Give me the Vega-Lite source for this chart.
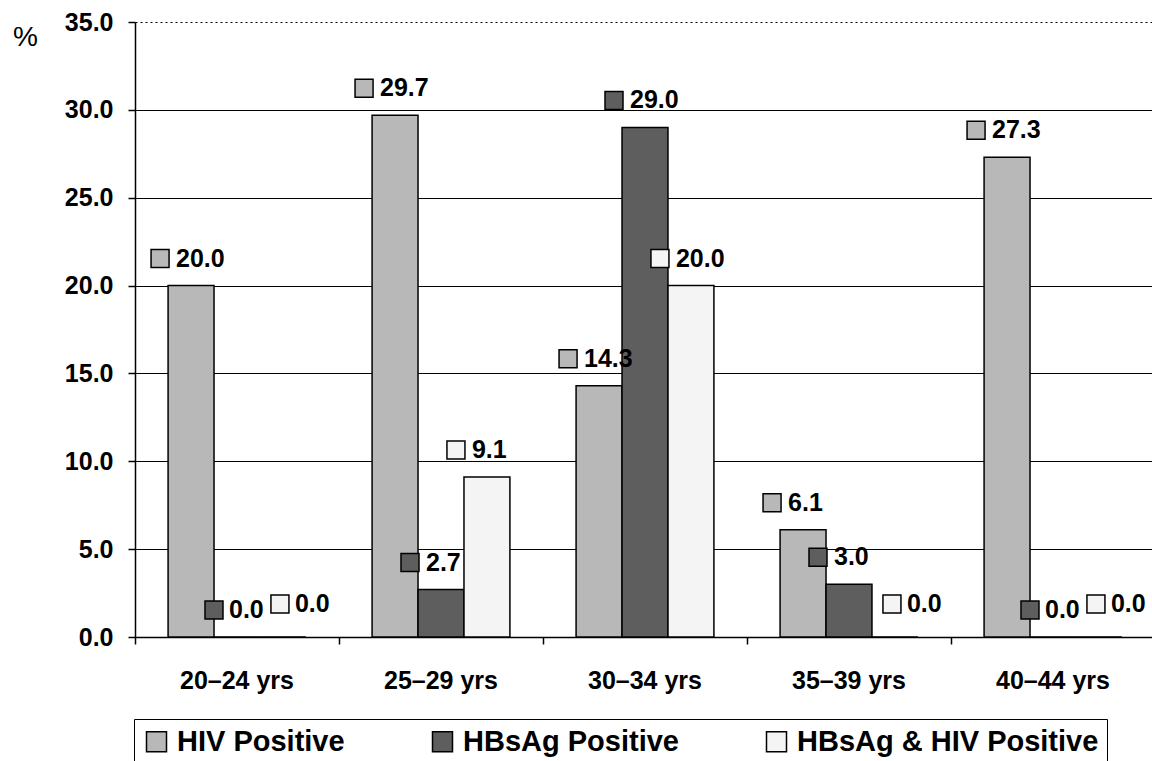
{
  "$schema": "https://vega.github.io/schema/vega-lite/v6.json",
  "width": 1020,
  "height": 615,
  "autosize": {"type": "none"},
  "padding": {"left": 135, "top": 22, "right": 0, "bottom": 124},
  "background": "white",
  "config": {"font": "Liberation Sans", "view": {"stroke": null}},
  "data": {"values": [
    {"age": "20–24 yrs", "series": "HIV Positive", "pct": 20.0},
    {"age": "20–24 yrs", "series": "HBsAg Positive", "pct": 0.0},
    {"age": "20–24 yrs", "series": "HBsAg & HIV Positive", "pct": 0.0},
    {"age": "25–29 yrs", "series": "HIV Positive", "pct": 29.7},
    {"age": "25–29 yrs", "series": "HBsAg Positive", "pct": 2.7},
    {"age": "25–29 yrs", "series": "HBsAg & HIV Positive", "pct": 9.1},
    {"age": "30–34 yrs", "series": "HIV Positive", "pct": 14.3},
    {"age": "30–34 yrs", "series": "HBsAg Positive", "pct": 29.0},
    {"age": "30–34 yrs", "series": "HBsAg & HIV Positive", "pct": 20.0},
    {"age": "35–39 yrs", "series": "HIV Positive", "pct": 6.1},
    {"age": "35–39 yrs", "series": "HBsAg Positive", "pct": 3.0},
    {"age": "35–39 yrs", "series": "HBsAg & HIV Positive", "pct": 0.0},
    {"age": "40–44 yrs", "series": "HIV Positive", "pct": 27.3},
    {"age": "40–44 yrs", "series": "HBsAg Positive", "pct": 0.0},
    {"age": "40–44 yrs", "series": "HBsAg & HIV Positive", "pct": 0.0}
  ]},
  "encoding": {
    "x": {
      "field": "age", "type": "nominal", "sort": null,
      "scale": {"paddingInner": 0, "paddingOuter": 0},
      "axis": {
        "title": null, "labelAngle": 0, "bandPosition": 0,
        "domainColor": "black", "domainWidth": 1.5,
        "tickColor": "black", "tickWidth": 1.5, "tickSize": 7,
        "labelFontSize": 25, "labelFontWeight": "bold", "labelColor": "black",
        "labelPadding": 24, "grid": false
      }
    },
    "xOffset": {
      "field": "series", "type": "nominal",
      "sort": ["HIV Positive", "HBsAg Positive", "HBsAg & HIV Positive"],
      "scale": {"paddingInner": 0, "paddingOuter": 0.72}
    },
    "y": {
      "field": "pct", "type": "quantitative",
      "scale": {"domain": [0, 35], "nice": false},
      "axis": {
        "values": [0, 5, 10, 15, 20, 25, 30, 35], "format": ".1f",
        "title": "%", "titleAngle": 0, "titleX": -110, "titleY": 15,
        "titleAlign": "center", "titleBaseline": "middle",
        "titleFontSize": 28, "titleFontWeight": "normal", "titleColor": "black",
        "domainColor": "black", "domainWidth": 1.5,
        "tickColor": "black", "tickWidth": 1.5, "tickSize": 7,
        "labelFontSize": 25, "labelFontWeight": "bold", "labelColor": "black",
        "labelPadding": 15,
        "grid": true, "gridColor": "black", "gridWidth": 1,
        "gridDash": {"condition": {"test": "datum.value == 35", "value": [2, 3]}, "value": []}
      }
    },
    "fill": {
      "field": "series", "type": "nominal",
      "sort": ["HIV Positive", "HBsAg Positive", "HBsAg & HIV Positive"],
      "scale": {"domain": ["HIV Positive", "HBsAg Positive", "HBsAg & HIV Positive"], "range": ["#b8b8b8", "#5e5e5e", "#f4f4f4"]},
      "legend": {
        "title": null, "orient": "none", "legendX": -1, "legendY": 697,
        "direction": "horizontal", "labelFontSize": 29, "labelFontWeight": "bold",
        "labelColor": "black", "labelLimit": 600, "symbolType": "square", "symbolSize": 400,
        "symbolStrokeColor": "black", "symbolStrokeWidth": 1.5, "strokeColor": "black",
        "fillColor": "white", "padding": 8, "columnPadding": 83, "labelOffset": 6
      }
    }
  },
  "layer": [
    {
      "mark": {"type": "bar", "stroke": "black", "strokeWidth": 1.5}
    },
    {
      "transform": [{"filter": "datum.pct != 0"}],
      "mark": {"type": "point", "shape": "M-4.444,-4H-2.444V-2H-4.444Z", "size": 324, "filled": true, "opacity": 1, "stroke": "black", "strokeWidth": 1.5}
    },
    {
      "transform": [{"filter": "datum.pct != 0"}],
      "mark": {"type": "text", "align": "left", "baseline": "middle", "dx": -15, "dy": -27, "fontSize": 25, "fontWeight": "bold"},
      "encoding": {"text": {"field": "pct", "type": "quantitative", "format": ".1f"}, "fill": {"value": "black"}}
    },
    {
      "transform": [{"filter": "datum.pct == 0 && datum.series == 'HBsAg Positive'"}],
      "mark": {"type": "point", "shape": "M-3.556,-4H-1.556V-2H-3.556Z", "size": 324, "filled": true, "opacity": 1, "stroke": "black", "strokeWidth": 1.5}
    },
    {
      "transform": [{"filter": "datum.pct == 0 && datum.series == 'HBsAg Positive'"}],
      "mark": {"type": "text", "align": "left", "baseline": "middle", "dx": -8, "dy": -27, "fontSize": 25, "fontWeight": "bold"},
      "encoding": {"text": {"field": "pct", "type": "quantitative", "format": ".1f"}, "fill": {"value": "black"}}
    },
    {
      "transform": [{"filter": "datum.pct == 0 && datum.series == 'HBsAg & HIV Positive'"}],
      "mark": {"type": "point", "shape": "M-1.333,-4.667H0.667V-2.667H-1.333Z", "size": 324, "filled": true, "opacity": 1, "stroke": "black", "strokeWidth": 1.5}
    },
    {
      "transform": [{"filter": "datum.pct == 0 && datum.series == 'HBsAg & HIV Positive'"}],
      "mark": {"type": "text", "align": "left", "baseline": "middle", "dx": 12, "dy": -33, "fontSize": 25, "fontWeight": "bold"},
      "encoding": {"text": {"field": "pct", "type": "quantitative", "format": ".1f"}, "fill": {"value": "black"}}
    }
  ]
}
